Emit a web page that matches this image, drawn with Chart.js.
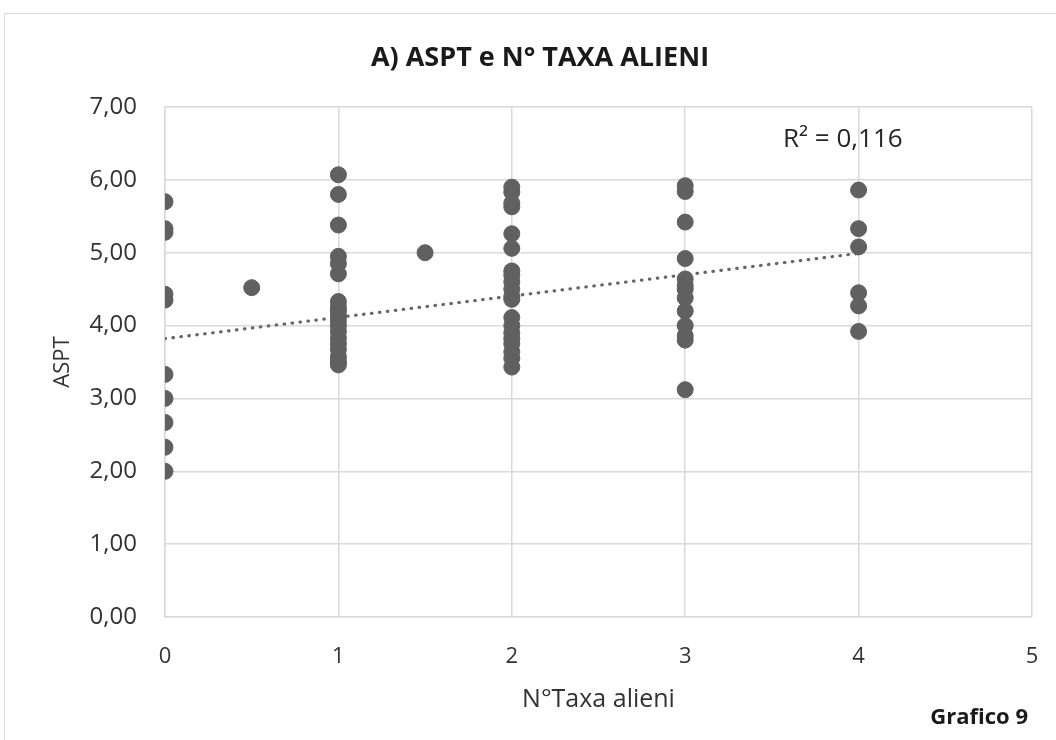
<!DOCTYPE html>
<html>
<head>
<meta charset="utf-8">
<script src="https://cdn.jsdelivr.net/npm/chart.js@4/dist/chart.umd.min.js"></script>
<style>
  html, body { margin: 0; padding: 0; background: #fff; overflow: hidden; }
  #wrap { position: relative; width: 1056px; height: 740px; }
  #frame { position: absolute; left: 4px; top: 13px; width: 1100px; height: 800px; border: 1px solid #d9d9d9; box-sizing: border-box; }
  canvas { position: absolute; left: 0; top: 0; }
</style>
</head>
<body>
<div id="wrap">
  <div id="frame"></div>
  <canvas id="c" width="1056" height="740"></canvas>
</div>
<script>
// ---- Data ----
const chartTitle = 'A) ASPT e N° TAXA ALIENI';
const xAxisTitle = 'N°Taxa alieni';
const yAxisTitle = 'ASPT';
const r2Label = 'R² = 0,116';
const footerLabel = 'Grafico 9';

const xTickLabels = ['0', '1', '2', '3', '4', '5'];
const yTickLabels = ['0,00', '1,00', '2,00', '3,00', '4,00', '5,00', '6,00', '7,00'];

// N° taxa alieni (x) for each group, with ASPT values
const xGroups = [0, 0.5, 1, 1.5, 2, 3, 4];
const asptAt0 = [5.70, 5.33, 5.28, 4.43, 4.35, 3.33, 3.00, 2.67, 2.33, 2.00];
const asptAt05 = [4.52];
const asptAt1 = [6.07, 5.80, 5.38, 4.95, 4.85, 4.71, 4.33, 4.25, 4.20, 4.14, 4.07, 4.00, 3.92, 3.83, 3.75, 3.67, 3.57, 3.50, 3.46];
const asptAt15 = [5.00];
const asptAt2 = [5.90, 5.83, 5.68, 5.63, 5.26, 5.06, 4.75, 4.69, 4.60, 4.50, 4.40, 4.36, 4.11, 4.00, 3.90, 3.82, 3.75, 3.64, 3.55, 3.43];
const asptAt3 = [5.92, 5.84, 5.42, 4.92, 4.64, 4.55, 4.50, 4.38, 4.20, 4.00, 3.86, 3.80, 3.12];
const asptAt4 = [5.86, 5.33, 5.08, 4.45, 4.27, 3.92];

// Linear trend line (ends at x = 0 and x = 4)
const trendX = [0, 4];
const trendY = [3.82, 4.99];

const groupValues = [asptAt0, asptAt05, asptAt1, asptAt15, asptAt2, asptAt3, asptAt4];

const points = [];
groupValues.forEach((vals, i) => vals.forEach(v => points.push({ x: xGroups[i], y: v })));
const trend = trendX.map((x, i) => ({ x: x, y: trendY[i] }));

const FONT = "'Open Sans', 'Liberation Sans', sans-serif";

const textPlugin = {
  id: 'texts',
  afterDraw(chart) {
    const ctx = chart.ctx;
    ctx.save();
    ctx.fillStyle = '#1a1a1a';
    ctx.textAlign = 'center';
    ctx.textBaseline = 'middle';
    ctx.font = "bold 27px " + FONT;
    ctx.fillText(chartTitle, 540, 58);
    ctx.font = "26px " + FONT;
    ctx.fillStyle = '#262626';
    ctx.textAlign = 'left';
    ctx.fillText(r2Label, 783, 140);
    ctx.font = "bold 22px " + FONT;
    ctx.fillStyle = '#1a1a1a';
    ctx.textAlign = 'right';
    ctx.fillText(footerLabel, 1028, 718);
    ctx.restore();
  }
};

new Chart(document.getElementById('c'), {
  type: 'scatter',
  data: {
    datasets: [
      {
        label: 'ASPT',
        data: points,
        backgroundColor: '#606060',
        borderColor: '#606060',
        pointRadius: 8,
        pointHoverRadius: 8,
        order: 1
      },
      {
        label: 'Trend',
        type: 'line',
        data: trend,
        borderColor: '#666666',
        borderWidth: 3.2,
        borderDash: [0.5, 7.5],
        borderCapStyle: 'round',
        pointRadius: 0,
        fill: false,
        order: 2
      }
    ]
  },
  plugins: [textPlugin],
  options: {
    responsive: false,
    animation: false,
    devicePixelRatio: 1,
    layout: { autoPadding: false, padding: { left: 40, right: 24, top: 107, bottom: 15 } },
    plugins: {
      legend: { display: false },
      title: { display: false },
      tooltip: { enabled: false }
    },
    scales: {
      x: {
        type: 'linear',
        min: 0, max: 5,
        afterFit(scale) { scale.height = 108; },
        ticks: {
          stepSize: 1,
          padding: 2,
          color: '#333333',
          font: { family: FONT, size: 22 },
          callback: (v) => xTickLabels[v] ?? ''
        },
        grid: { color: '#d9d9d9', lineWidth: 1.5, drawTicks: true, tickLength: 25, tickColor: 'rgba(0,0,0,0)' },
        border: { color: '#d9d9d9', width: 1.5 },
        title: {
          display: true,
          text: xAxisTitle,
          color: '#333333',
          font: { family: FONT, size: 25 },
          padding: { top: 0, bottom: 10 }
        }
      },
      y: {
        type: 'linear',
        min: 0, max: 7,
        afterFit(scale) { scale.width = 125; },
        ticks: {
          stepSize: 1,
          padding: 28,
          color: '#333333',
          font: { family: FONT, size: 24 },
          callback: (v) => yTickLabels[v] ?? ''
        },
        grid: { color: '#d9d9d9', lineWidth: 1.5, drawTicks: false },
        border: { color: '#d9d9d9', width: 1.5 },
        title: {
          display: true,
          text: yAxisTitle,
          color: '#333333',
          font: { family: FONT, size: 22 },
          padding: { top: 10, bottom: 0 }
        }
      }
    }
  }
});
</script>
</body>
</html>
